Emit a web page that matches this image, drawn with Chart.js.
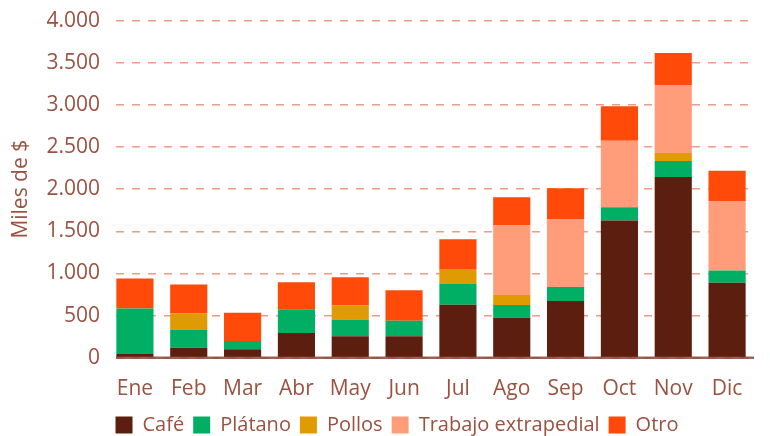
<!DOCTYPE html>
<html>
<head>
<meta charset="utf-8">
<script src="https://cdn.jsdelivr.net/npm/chart.js@4"></script>
<style>
html,body{margin:0;padding:0;background:#fff;}
#wrap{width:770px;height:436px;position:relative;}
</style>
</head>
<body>
<div id="wrap"><canvas id="c" width="770" height="436"></canvas></div>
<script>
const categories = ['Ene','Feb','Mar','Abr','May','Jun','Jul','Ago','Sep','Oct','Nov','Dic'];
const cafe     = [45, 120, 100, 295, 255, 255, 630, 475, 675, 1630, 2145, 890];
const platano  = [540, 215, 100, 280, 200, 185, 250, 150, 165, 155, 190, 145];
const pollos   = [0, 190, 0, 0, 165, 0, 165, 120, 0, 0, 95, 0];
const trabajo  = [0, 0, 0, 0, 0, 0, 0, 825, 800, 790, 800, 825];
const otro     = [355, 345, 335, 320, 335, 360, 360, 335, 370, 410, 385, 360];
const seriesNames = ['Café','Plátano','Pollos','Trabajo extrapedial','Otro'];
const yTicks = [0, 500, 1000, 1500, 2000, 2500, 3000, 3500, 4000];
const yTitle = 'Miles de $';

const colors = ['#5C1F0F','#00AF63','#E09B00','#FF9D7A','#FF4A0A'];
const textColor = '#9A5241';
const fontFam = '"Open Sans", "Noto Sans", sans-serif';

const seriesData = [cafe, platano, pollos, trabajo, otro];
const datasets = seriesData.map((d, i) => ({
  label: seriesNames[i],
  data: d,
  backgroundColor: colors[i],
  borderWidth: 0,
  categoryPercentage: 1.0,
  barPercentage: 0.69
}));

const fmt = v => String(v).replace(/\B(?=(\d{3})+(?!\d))/g, '.');

new Chart(document.getElementById('c'), {
  type: 'bar',
  data: { labels: categories, datasets },
  options: {
    responsive: false,
    animation: false,
    layout: { padding: { left: 4, right: 16, top: 16, bottom: -9 } },
    plugins: {
      legend: {
        position: 'bottom',
        labels: {
          color: textColor,
          font: { family: fontFam, size: 20 },
          boxWidth: 17, boxHeight: 17,
          padding: 9
        }
      },
      tooltip: { enabled: false }
    },
    scales: {
      x: {
        stacked: true,
        grid: { display: false },
        border: { display: false },
        afterFit: s => { s.height -= 7; },
        ticks: { color: textColor, font: { family: fontFam, size: 21 }, padding: 11, maxRotation: 0 }
      },
      y: {
        stacked: true,
        min: 0, max: 4000,
        afterBuildTicks: s => { s.ticks = yTicks.map(v => ({ value: v })); },
        afterFit: s => { s.width = 104; },
        ticks: { color: textColor, font: { family: fontFam, size: 21 }, padding: 8, callback: v => fmt(v) },
        grid: { color: '#EC9C88', lineWidth: 1.5, drawTicks: false },
        border: { display: true, dash: [8, 8], dashOffset: 8, color: '#EC9C88', width: 0 },
        title: { display: true, text: yTitle, color: textColor, font: { family: fontFam, size: 21 }, padding: { top: 4, bottom: 0 } }
      }
    }
  },
  plugins: [{
    id: 'legendShift',
    afterLayout(chart) {
      if (chart.legend) { chart.legend.left += 36; }
    }
  }, {
    id: 'baseline',
    afterDatasetsDraw(chart) {
      const { ctx, chartArea } = chart;
      const y = chart.scales.y.getPixelForValue(0);
      ctx.save();
      ctx.strokeStyle = 'rgba(140,70,55,0.85)';
      ctx.lineWidth = 2.5;
      ctx.beginPath();
      ctx.moveTo(chartArea.left + 8, y);
      ctx.lineTo(chartArea.right, y);
      ctx.stroke();
      ctx.restore();
    }
  }]
});
</script>
</body>
</html>
